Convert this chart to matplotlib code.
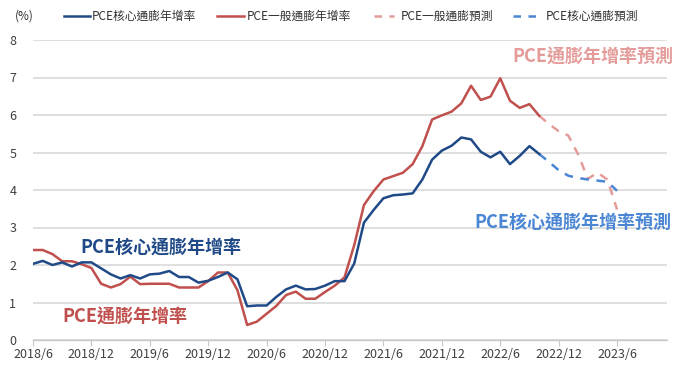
import matplotlib
matplotlib.use("Agg")
import matplotlib.pyplot as plt
from matplotlib.lines import Line2D

plt.rcParams['font.family'] = ['Noto Sans CJK TC', 'DejaVu Sans']

# ---- data (monthly, index 0 = 2018/6) ----
core_actual = [2.03, 2.11, 2.0, 2.07, 1.96, 2.07, 2.07, 1.91, 1.75, 1.64, 1.73, 1.64,
               1.75, 1.77, 1.84, 1.68, 1.68, 1.53, 1.58, 1.68, 1.8, 1.62, 0.9, 0.92,
               0.92, 1.15, 1.35, 1.45, 1.35, 1.36, 1.45, 1.57, 1.57, 2.04, 3.13, 3.47,
               3.78, 3.86, 3.88, 3.91, 4.28, 4.81, 5.05, 5.18, 5.4, 5.35, 5.02, 4.87,
               5.02, 4.69, 4.91, 5.17, 4.96]
headline_actual = [2.4, 2.4, 2.29, 2.1, 2.1, 2.02, 1.92, 1.5, 1.4, 1.49, 1.69, 1.49,
                   1.5, 1.5, 1.5, 1.4, 1.4, 1.4, 1.57, 1.8, 1.8, 1.33, 0.4, 0.49,
                   0.7, 0.91, 1.2, 1.29, 1.1, 1.1, 1.28, 1.45, 1.67, 2.53, 3.6, 3.97,
                   4.28, 4.37, 4.46, 4.69, 5.17, 5.88, 5.99, 6.09, 6.31, 6.78, 6.4, 6.49,
                   6.98, 6.38, 6.19, 6.29, 5.98]
forecast_start = 52
core_forecast = [4.96, 4.75, 4.53, 4.38, 4.32, 4.28, 4.25, 4.22, 3.98]
headline_forecast = [5.98, 5.76, 5.57, 5.45, 4.95, 4.3, 4.46, 4.28, 3.48]

tick_positions = [0, 6, 12, 18, 24, 30, 36, 42, 48, 54, 60]
tick_labels = ['2018/6', '2018/12', '2019/6', '2019/12', '2020/6', '2020/12',
               '2021/6', '2021/12', '2022/6', '2022/12', '2023/6']

legend_labels = ['PCE核心通膨年增率', 'PCE一般通膨年增率', 'PCE一般通膨預測', 'PCE核心通膨預測']

c_core = '#1F4A87'
c_head = '#C0504D'
c_head_fc = '#E49C9A'
c_core_fc = '#4A86D4'

W, H = 693, 365
fig = plt.figure(figsize=(W / 100, H / 100), dpi=100)
ax = fig.add_axes([33 / W, 25 / H, (666.7 - 33) / W, 300 / H])

x_act = list(range(len(core_actual)))
x_fc = list(range(forecast_start, forecast_start + len(core_forecast)))

lw = 1.8
ax.plot(x_act, core_actual, color=c_core, lw=lw, zorder=4)
ax.plot(x_act, headline_actual, color=c_head, lw=lw, zorder=3)
ax.plot(x_fc, headline_forecast, color=c_head_fc, lw=lw, dashes=(3.5, 3), zorder=2)
ax.plot(x_fc, core_forecast, color=c_core_fc, lw=lw, dashes=(3.5, 3), zorder=2)

ax.set_xlim(0, 65.1)
ax.set_ylim(0, 8)
ax.set_yticks(range(0, 9))
ax.set_xticks(tick_positions)
ax.set_xticklabels(tick_labels)
ax.grid(axis='y', color='#D9D9D9', lw=1.2)
ax.set_axisbelow(True)
for s in ['top', 'right', 'left']:
    ax.spines[s].set_visible(False)
ax.spines['bottom'].set_color('#C8C8C8')
ax.spines['bottom'].set_linewidth(1.0)
ax.tick_params(axis='y', length=0, pad=12, labelsize=9, labelcolor='#404040')
ax.tick_params(axis='x', length=4, color='#C8C8C8', pad=2, labelsize=9, labelcolor='#404040')

# annotations
def fx(px):
    return px / W

def fy(py):
    return 1 - py / H

fig.text(fx(80), fy(248.5), 'PCE核心通膨年增率', color=c_core, fontsize=13,
         fontweight='bold', ha='left', va='center')
fig.text(fx(62), fy(317), 'PCE通膨年增率', color=c_head, fontsize=13,
         fontweight='bold', ha='left', va='center')
fig.text(fx(673), fy(57.5), 'PCE通膨年增率預測', color=c_head_fc, fontsize=13,
         fontweight='bold', ha='right', va='center')
fig.text(fx(671), fy(223.5), 'PCE核心通膨年增率預測', color=c_core_fc, fontsize=13,
         fontweight='bold', ha='right', va='center')

# legend
fig.text(fx(24), fy(16), '(%)', fontsize=8.5, color='#303030', ha='center', va='center')
leg_line_x = [(64, 90), (217, 244), (374, 394), (513, 538)]
leg_text_x = [92, 247, 401, 546]
leg_colors = [c_core, c_head, c_head_fc, c_core_fc]
leg_dashed = [False, False, True, True]
for (x0, x1), tx, col, dsh, lab in zip(leg_line_x, leg_text_x, leg_colors, leg_dashed, legend_labels):
    ln = Line2D([fx(x0), fx(x1)], [fy(16), fy(16)], transform=fig.transFigure,
                color=col, lw=lw)
    if dsh:
        ln.set_dashes((3, 3))
    fig.lines.append(ln)
    fig.text(fx(tx), fy(16), lab, fontsize=8.5, color='#303030', ha='left', va='center')

fig.savefig('out.png', dpi=100)
